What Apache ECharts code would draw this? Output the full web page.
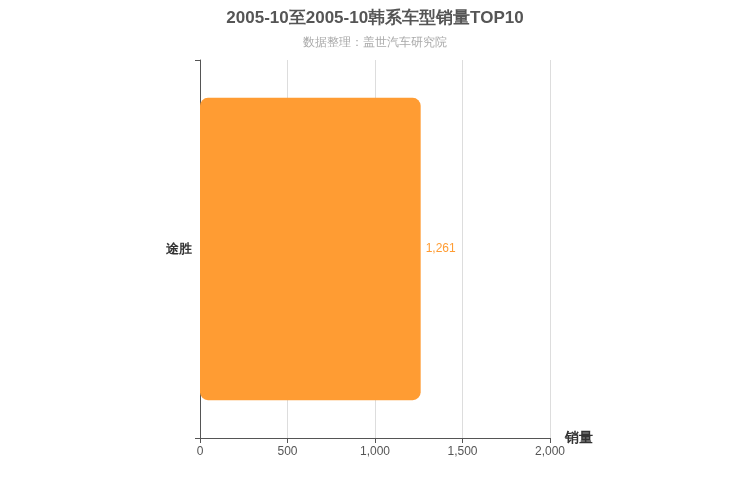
<!DOCTYPE html>
<html><head><meta charset="utf-8">
<script src="https://cdn.jsdelivr.net/npm/echarts@6/dist/echarts.min.js"></script>
<style>body{margin:0}#c{width:750px;height:500px}</style></head>
<body><div id="c"></div>
<script>
var categories = ["途胜"];
var sales = [1261];

var chart = echarts.init(document.getElementById("c"));
chart.setOption({
  title: {
    text: "2005-10至2005-10韩系车型销量TOP10",
    subtext: "数据整理：盖世汽车研究院",
    left: "center", top: 5,
    textStyle: {fontSize: 17, fontWeight: "bold", color: "#555"},
    subtextStyle: {fontSize: 12, color: "#aaa"},
    itemGap: 10
  },
  grid: {left: 200, right: 200, top: 60, bottom: 62},
  xAxis: {
    type: "value", min: 0, max: 2000, interval: 500,
    name: "销量", nameTextStyle: {fontSize: 14, fontWeight: "bold", color: "#333", padding: [20, 0, 0, 0]},
    axisLine: {show: true, lineStyle: {color: "#555"}},
    axisTick: {show: true},
    axisLabel: {color: "#555"},
    splitLine: {lineStyle: {color: "#ddd"}}
  },
  yAxis: {
    type: "category", data: categories,
    axisLine: {lineStyle: {color: "#555"}},
    axisTick: {show: true},
    axisLabel: {color: "#333", fontSize: 13, fontWeight: "bold"}
  },
  series: [{
    type: "bar", data: sales, barCategoryGap: "20%",
    itemStyle: {color: "#ff9c33", borderRadius: 8},
    label: {show: true, position: "right", color: "#ff9c33", formatter: function(p){return p.value.toLocaleString("en-US");}}
  }]
});
</script></body></html>
